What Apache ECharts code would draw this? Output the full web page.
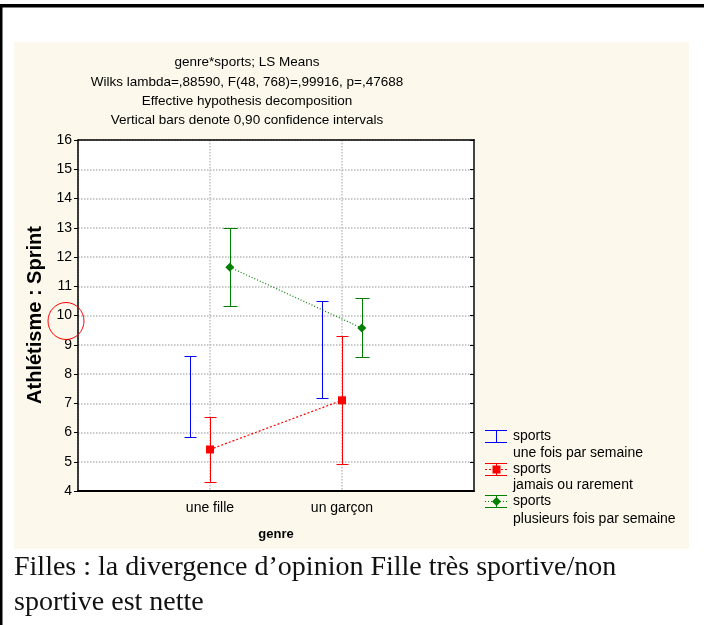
<!DOCTYPE html>
<html>
<head>
<meta charset="utf-8">
<script src="https://cdn.jsdelivr.net/npm/echarts@6/dist/echarts.min.js"></script>
<style>
html,body{margin:0;padding:0;background:#ffffff;}
#chart{width:704px;height:625px;}
</style>
</head>
<body>
<div id="chart"></div>
<script>
// ---- data ----
const categories = ['une fille', 'un garçon'];
const seriesNames = ['sports\nune fois par semaine', 'sports\njamais ou rarement', 'sports\nplusieurs fois par semaine'];
// LS means
const meanUneFois   = [7.22, 8.85];
const meanJamais    = [5.42, 7.10];
const meanPlusieurs = [11.65, 9.57];
// 0.90 confidence limits
const lowUneFois    = [5.84, 7.19];
const highUneFois   = [8.61, 10.50];
const lowJamais     = [4.30, 4.91];
const highJamais    = [6.53, 9.30];
const lowPlusieurs  = [10.31, 8.59];
const highPlusieurs = [13.00, 10.59];
const yTicks = [4, 5, 6, 7, 8, 9, 10, 11, 12, 13, 14, 15, 16];

const titleLines = ['genre*sports; LS Means',
  'Wilks lambda=,88590, F(48, 768)=,99916, p=,47688',
  'Effective hypothesis decomposition',
  'Vertical bars denote 0,90 confidence intervals'];
const captionLines = ['Filles : la divergence d\u2019opinion Fille très sportive/non', 'sportive est nette'];

// ---- build ----
const FONT = '"Liberation Sans", Arial, sans-serif';
const colors = ['#0000ff', '#ff0000', '#008000'];
const dodge = [-0.15, 0, 0.15];
const capHalf = [6, 6, 7];

function pos(i, s) { return i + 1 + dodge[s]; }

function errData(lows, highs, s) {
  return categories.map((c, i) => [pos(i, s), lows[i], highs[i]]);
}
function meanData(means, s) {
  return categories.map((c, i) => [pos(i, s), means[i]]);
}

function errSeries(lows, highs, s) {
  return {
    type: 'custom',
    name: seriesNames[s],
    data: errData(lows, highs, s),
    z: 3,
    renderItem: function (params, api) {
      const x = api.value(0), lo = api.value(1), hi = api.value(2);
      const a = api.coord([x, lo]), b = api.coord([x, hi]);
      const cx = Math.round(a[0]) + 0.5;
      const ylo = Math.round(a[1]) + 0.5, yhi = Math.round(b[1]) + 0.5;
      const hw = capHalf[s];
      const st = { stroke: colors[s], lineWidth: 1 };
      return {
        type: 'group',
        children: [
          { type: 'line', shape: { x1: cx, y1: ylo, x2: cx, y2: yhi }, style: st },
          { type: 'line', shape: { x1: cx - hw, y1: ylo, x2: cx + hw, y2: ylo }, style: st },
          { type: 'line', shape: { x1: cx - hw, y1: yhi, x2: cx + hw, y2: yhi }, style: st }
        ]
      };
    }
  };
}

const chart = echarts.init(document.getElementById('chart'), null, { renderer: 'canvas' });

const legendX = 485, legendTextX = 513;
const legendRows = [436, 469, 501];
const legendSub = [453, 485, 519];
const CAPFONT = '28px "Liberation Serif", "DejaVu Serif", serif';

const graphics = [
  { type: 'rect', z: -10, shape: { x: 14, y: 42, width: 675, height: 507 }, style: { fill: '#fdf8ec' }, silent: true },
  { type: 'rect', z: 10, shape: { x: 0, y: 4, width: 704, height: 3.5 }, style: { fill: '#000' }, silent: true },
  { type: 'rect', z: 10, shape: { x: 0, y: 4, width: 2.5, height: 621 }, style: { fill: '#000' }, silent: true },
  { type: 'ellipse', z: 10, shape: { cx: 66, cy: 321, rx: 18, ry: 18.5 }, style: { stroke: '#ff0000', fill: null, lineWidth: 1 }, silent: true },
  { type: 'text', z: 10, x: 14, y: 568, style: { text: captionLines[0], font: CAPFONT, fill: '#111', verticalAlign: 'middle' } },
  { type: 'text', z: 10, x: 14, y: 603, style: { text: captionLines[1], font: CAPFONT, fill: '#111', verticalAlign: 'middle' } },
  { type: 'text', z: 10, x: 35, y: 315, rotation: Math.PI / 2, style: { text: 'Athlétisme : Sprint', font: 'bold 20px ' + FONT, fill: '#000', align: 'center', verticalAlign: 'middle' } }
];

// legend drawn as graphic
for (let s = 0; s < 3; s++) {
  const cy = legendRows[s] + 0.5;
  const x1 = legendX, x2 = legendX + 22, xm = Math.round((x1 + x2) / 2) + 0.5;
  const st = { stroke: colors[s], lineWidth: 1 };
  graphics.push({ type: 'line', shape: { x1: xm, y1: cy - 6, x2: xm, y2: cy + 6 }, style: st });
  graphics.push({ type: 'line', shape: { x1: x1, y1: cy - 6, x2: x2, y2: cy - 6 }, style: st });
  graphics.push({ type: 'line', shape: { x1: x1, y1: cy + 6, x2: x2, y2: cy + 6 }, style: st });
  if (s === 1) {
    graphics.push({ type: 'line', shape: { x1: x1, y1: cy, x2: x2, y2: cy }, style: { stroke: colors[s], lineWidth: 1, lineDash: [2, 2] } });
    graphics.push({ type: 'rect', shape: { x: xm - 4, y: cy - 4, width: 8, height: 8 }, style: { fill: colors[s] } });
  }
  if (s === 2) {
    graphics.push({ type: 'line', shape: { x1: x1, y1: cy, x2: x2, y2: cy }, style: { stroke: colors[s], lineWidth: 1, lineDash: [1, 2] } });
    graphics.push({ type: 'polygon', shape: { points: [[xm, cy - 4.5], [xm + 4.5, cy], [xm, cy + 4.5], [xm - 4.5, cy]] }, style: { fill: colors[s] } });
  }
  const parts = seriesNames[s].split('\n');
  graphics.push({ type: 'text', x: legendTextX, y: legendRows[s], style: { text: parts[0], font: '14px ' + FONT, fill: '#000', verticalAlign: 'middle' } });
  graphics.push({ type: 'text', x: legendTextX, y: legendSub[s], style: { text: parts[1], font: '14px ' + FONT, fill: '#000', verticalAlign: 'middle' } });
}

const option = {
  animation: false,
  backgroundColor: '#ffffff',
  title: {
    text: titleLines.join('\n'),
    left: 242,
    top: 48,
    textAlign: 'center',
    textStyle: { fontFamily: FONT, fontSize: 13.5, fontWeight: 'normal', color: '#000', lineHeight: 19.3 }
  },
  grid: { left: 78, right: 230, top: 140, bottom: 134, show: true, backgroundColor: '#ffffff', borderWidth: 0 },
  xAxis: [{
    type: 'value', min: 0, max: 3, interval: 1,
    name: 'genre', nameLocation: 'middle', nameGap: 37,
    nameTextStyle: { fontFamily: FONT, fontSize: 13, fontWeight: 'bold', color: '#000' },
    axisLine: { show: true, onZero: false, lineStyle: { color: '#000', width: 2 } },
    axisTick: { show: false },
    axisLabel: { fontFamily: FONT, fontSize: 14, color: '#000', margin: 10,
      formatter: function (v) { return (v >= 1 && v <= categories.length && v === Math.round(v)) ? categories[v - 1] : ''; } },
    splitLine: { show: true, lineStyle: { color: '#c0c0c0', type: 'dotted', width: 1.5 } }
  }, {
    type: 'value', min: 0, max: 3, interval: 1, position: 'top',
    axisLine: { show: true, onZero: false, lineStyle: { color: '#000', width: 1.5 } },
    axisTick: { show: false }, axisLabel: { show: false }, splitLine: { show: false }
  }],
  yAxis: [{
    type: 'value', min: yTicks[0], max: yTicks[yTicks.length - 1], interval: 1,
    axisLine: { show: true, onZero: false, lineStyle: { color: '#000', width: 1.5 } },
    axisTick: { show: true, inside: false, length: 4, lineStyle: { color: '#000' } },
    axisLabel: { fontFamily: FONT, fontSize: 14, color: '#000', margin: 6 },
    splitLine: { show: true, lineStyle: { color: '#b8b8b8', type: 'dotted', width: 1.5 } }
  }, {
    type: 'value', min: yTicks[0], max: yTicks[yTicks.length - 1], interval: 1, position: 'right',
    axisLine: { show: true, onZero: false, lineStyle: { color: '#444', width: 2 } },
    axisTick: { show: true, inside: true, length: 4, lineStyle: { color: '#000' } },
    axisLabel: { show: false }, splitLine: { show: false }
  }],
  series: [
    errSeries(lowUneFois, highUneFois, 0),
    errSeries(lowJamais, highJamais, 1),
    errSeries(lowPlusieurs, highPlusieurs, 2),
    {
      type: 'line', name: seriesNames[1], data: meanData(meanJamais, 1), z: 4,
      symbol: 'rect', symbolSize: 8, showSymbol: true,
      lineStyle: { color: colors[1], width: 1.2, type: [2, 2] },
      itemStyle: { color: colors[1] }
    },
    {
      type: 'line', name: seriesNames[2], data: meanData(meanPlusieurs, 2), z: 4,
      symbol: 'diamond', symbolSize: 9, showSymbol: true,
      lineStyle: { color: colors[2], width: 1.2, type: [1, 2] },
      itemStyle: { color: colors[2] }
    }
  ],
  graphic: graphics
};
chart.setOption(option);
</script>
</body>
</html>
